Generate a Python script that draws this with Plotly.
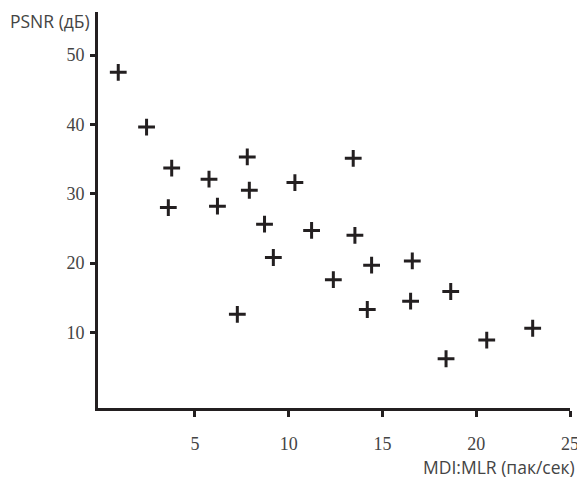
import plotly.graph_objects as go

# Data
mdi_mlr = [0.91, 2.42, 3.76, 3.58, 5.75, 6.20, 7.79, 7.90, 8.71, 9.18, 7.26, 10.33,
           11.22, 12.38, 13.44, 13.53, 14.42, 14.19, 16.59, 16.50, 18.64, 18.39, 20.56, 23.01]
psnr = [47.5, 39.6, 33.7, 28.0, 32.1, 28.2, 35.3, 30.5, 25.6, 20.8, 12.6, 31.6,
        24.7, 17.6, 35.1, 24.0, 19.7, 13.3, 20.3, 14.5, 15.9, 6.2, 8.9, 10.6]
x_ticks = [5, 10, 15, 20, 25]
y_ticks = [10, 20, 30, 40, 50]

ink = "#231f20"

fig = go.Figure()
fig.add_trace(go.Scatter(
    x=mdi_mlr, y=psnr, mode="markers",
    marker=dict(symbol="cross-thin", size=12, color=ink, line=dict(width=3, color=ink)),
    showlegend=False, hoverinfo="x+y",
))

tick_font = dict(family="Liberation Serif, Times New Roman, serif", size=18, color="#444")

fig.update_layout(
    width=577, height=471,
    margin=dict(l=90, r=15, t=4, b=71),
    paper_bgcolor="white", plot_bgcolor="white",
    xaxis=dict(
        range=[-0.17, 25.0], tickvals=x_ticks, ticktext=[str(v) for v in x_ticks],
        showline=True, linewidth=3, linecolor=ink, showgrid=False, zeroline=False,
        ticks="outside", ticklen=6, tickwidth=3, tickcolor=ink,
        tickfont=tick_font, ticklabelstandoff=11, ticklabeloverflow="allow",
    ),
    yaxis=dict(
        range=[-0.9, 56.2], tickvals=y_ticks, ticktext=[str(v) for v in y_ticks],
        showline=True, linewidth=3, linecolor=ink, showgrid=False, zeroline=False,
        ticks="outside", ticklen=5, tickwidth=2.5, tickcolor=ink,
        tickfont=tick_font, ticklabelstandoff=2, ticklabeloverflow="allow",
    ),
    annotations=[
        dict(text="PSNR (дБ)", xref="paper", yref="paper", x=-0.19, y=1.0,
             xanchor="left", yanchor="middle", showarrow=False, yshift=-9,
             font=dict(family="Open Sans, Noto Sans, sans-serif", size=17.5, color="#444")),
        dict(text="MDI:MLR (пак/сек)", xref="paper", yref="paper", x=1.0, y=0,
             xanchor="right", yanchor="middle", showarrow=False, yshift=-59, xshift=7,
             font=dict(family="Open Sans, Noto Sans, sans-serif", size=17.5, color="#444")),
    ],
)

fig.write_html("out.html")
